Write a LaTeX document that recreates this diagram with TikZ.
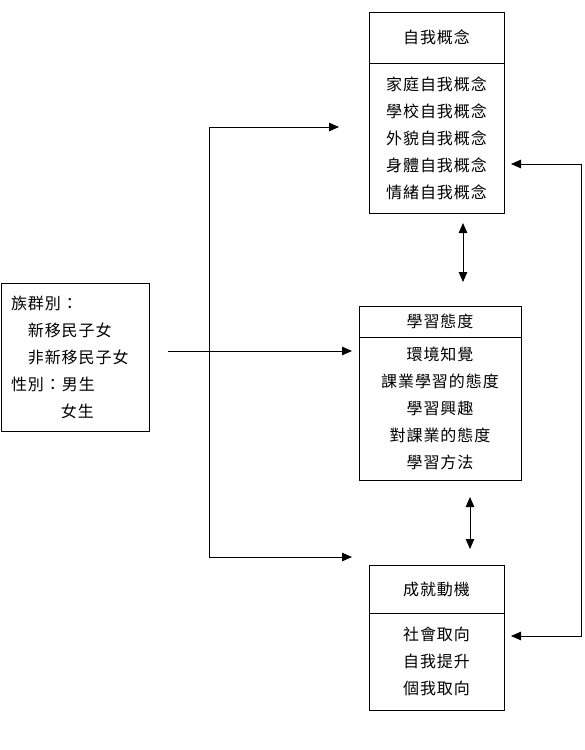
\documentclass[tikz,border=0pt]{standalone}
\usepackage{fontspec}
\setmainfont[LetterSpace=6]{Noto Sans CJK TC}
\usetikzlibrary{arrows.meta, positioning}

\begin{document}
\begin{tikzpicture}[
    x=1pt, y=-1pt,
    every node/.style={font=\fontsize{16}{27}\selectfont, outer sep=0pt},
    head/.style={draw, line width=1pt, inner sep=0pt, align=center},
    body/.style={draw, line width=1pt, inner sep=0pt, align=center},
    link/.style={line width=1pt, -{Triangle[length=10pt,width=8.5pt]}},
    both/.style={line width=1pt, {Triangle[length=10pt,width=8.5pt]}-{Triangle[length=10pt,width=8.5pt]}}
]
\useasboundingbox (0,0) rectangle (585,750);

% =========================
% Background variables
% =========================
\node[draw, line width=1pt, text width=128pt, inner xsep=10pt, inner ysep=0pt,
      minimum height=148pt, align=left] (group) at (75,357)
    {族群別：\\
     \hspace*{1.05em}新移民子女\\
     \hspace*{1.05em}非新移民子女\\
     性別：男生\\
     \phantom{性別：}女生};

% =========================
% Self concept
% =========================
\node[head, minimum width=135pt, minimum height=51pt] (self-t) at (436.5,37.5) {自我概念};
\node[body, minimum width=135pt, minimum height=150pt, below=0pt of self-t] (self-l)
    {家庭自我概念\\學校自我概念\\外貌自我概念\\身體自我概念\\情緒自我概念};

% =========================
% Learning attitude
% =========================
\node[head, minimum width=162pt, minimum height=31pt] (att-t) at (440,321.5) {學習態度};
\node[body, minimum width=162pt, minimum height=143pt, below=0pt of att-t] (att-l)
    {環境知覺\\課業學習的態度\\學習興趣\\對課業的態度\\學習方法};

% =========================
% Achievement motivation
% =========================
\node[head, minimum width=135pt, minimum height=48pt] (mot-t) at (436.5,589) {成就動機};
\node[body, minimum width=135pt, minimum height=97pt, below=0pt of mot-t] (mot-l)
    {社會取向\\自我提升\\個我取向};

% fork on the left
\coordinate (fork-t) at (209,127);
\coordinate (fork-b) at (209,557);
\draw[both] ([xshift=-30pt]self-t.west |- fork-t) -- (fork-t) -- (fork-b)
    -- ([xshift=-7pt]att-l.west |- fork-b);

% main arrow
\coordinate (main) at (168,351);
\draw[link] (main) -- ([xshift=-7pt]att-l.west |- main);

% between the boxes
\draw[both] ([xshift=26.5pt,yshift=-10pt]self-l.south) -- ([xshift=23pt,yshift=24pt]att-t.north);
\draw[both] ([xshift=30pt,yshift=-17pt]att-l.south) -- ([xshift=33.5pt,yshift=16pt]mot-t.north);

% loop on the right
\coordinate (loop-t) at (581,164);
\coordinate (loop-b) at (581,636);
\draw[both] ([xshift=7pt]self-l.east |- loop-t) -- (loop-t) -- (loop-b)
    -- ([xshift=7pt]mot-l.east |- loop-b);

\end{tikzpicture}
\end{document}
